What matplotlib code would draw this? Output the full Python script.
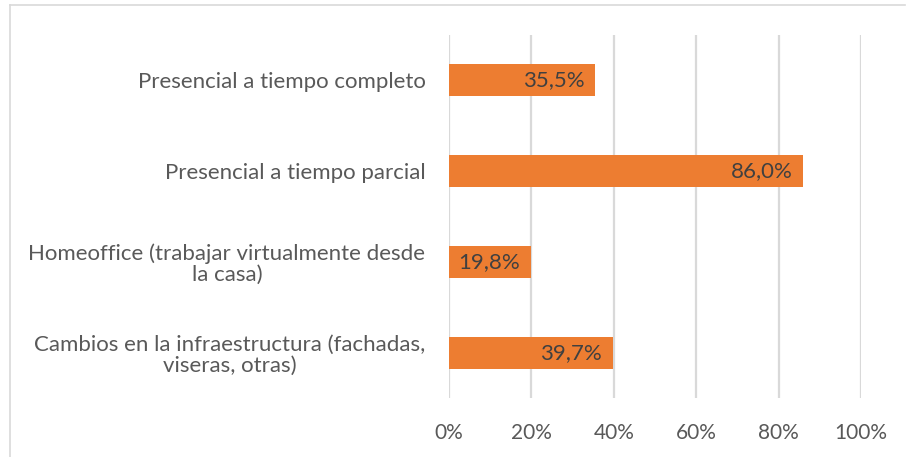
import matplotlib.pyplot as plt
from matplotlib.lines import Line2D

categories = ['Presencial a tiempo completo',
              'Presencial a tiempo parcial',
              'Homeoffice (trabajar virtualmente desde\nla casa)',
              'Cambios en la infraestructura (fachadas,\nviseras, otras)']
values = [35.5, 86.0, 19.8, 39.7]
ticks = [0, 20, 40, 60, 80, 100]

plt.rcParams['font.family'] = ['Lato', 'DejaVu Sans']
bar_color = '#ED7D31'
text_color = '#595959'

fig = plt.figure(figsize=(9.06, 4.57), dpi=100)
ax = fig.add_axes([449 / 906, 1 - 398 / 457, (861 - 449) / 906, (398 - 35) / 457])

ypos = list(range(len(categories)))
ax.barh(ypos, values, height=0.35, color=bar_color, zorder=3)
for y, v in zip(ypos, values):
    ax.text(v - 2.6, y, '{:.1f}%'.format(v).replace('.', ','), ha='right', va='center',
            fontsize=16, color='#404040', zorder=4)

ax.set_ylim(len(categories) - 0.5, -0.5)
ax.set_xlim(0, 100)
ax.set_xticks(ticks)
ax.set_xticklabels(['{}%'.format(t) for t in ticks])
ax.set_yticks(ypos)
ax.set_yticklabels(categories, ha='right', multialignment='center', linespacing=1.05)
ax.tick_params(axis='y', length=0, pad=17, labelsize=16, labelcolor=text_color)
ax.tick_params(axis='x', length=0, pad=18, labelsize=15, labelcolor=text_color)
ax.grid(axis='x', color='#D9D9D9', linewidth=1.6, zorder=0)
for s in ax.spines.values():
    s.set_visible(False)

fig.add_artist(Line2D([10 / 906, 10 / 906], [0, 1 - 5 / 457], transform=fig.transFigure,
                      color='#D9D9D9', linewidth=1.2))
fig.add_artist(Line2D([10 / 906, 905 / 906], [1 - 5 / 457, 1 - 5 / 457], transform=fig.transFigure,
                      color='#D9D9D9', linewidth=1.2))

fig.savefig('out.png', dpi=100)
